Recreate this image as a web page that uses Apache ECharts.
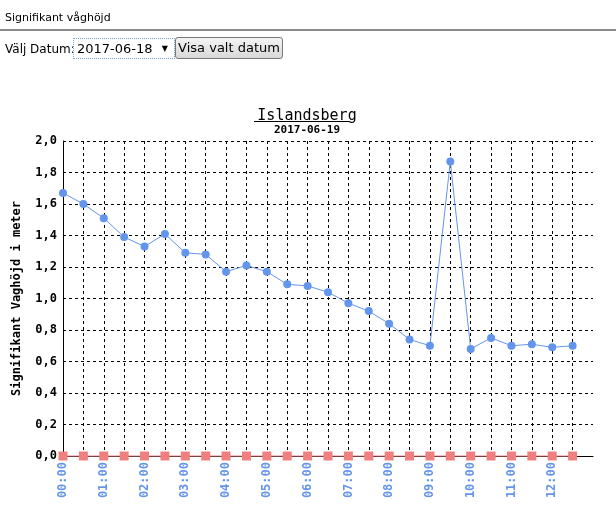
<!DOCTYPE html>
<html>
<head>
<meta charset="utf-8">
<script src="https://cdn.jsdelivr.net/npm/echarts@6/dist/echarts.min.js"></script>
<style>
  html, body { margin:0; padding:0; background:#fff; }
  #wrap { position:relative; width:616px; height:515px; overflow:hidden; }
  #chart { position:absolute; left:0; top:0; width:616px; height:515px; }
  .hdr { position:absolute; font-family:"DejaVu Sans", Verdana, sans-serif; font-size:11px; color:#000; z-index:2; }
  #rule { position:absolute; left:0; top:29px; width:616px; height:2px; background:#8a8a8a; z-index:2; }
  #sel { position:absolute; left:73px; top:38px; width:97px; height:19px; border:1px dotted #7aa0d8; background:#fff; font-family:"DejaVu Sans", Verdana, sans-serif; font-size:13px; line-height:19px; padding-left:3px; box-sizing:content-box; z-index:2; }
  #sel .arr { position:absolute; right:6px; top:0; font-size:8px; }
  #btn { position:absolute; left:175px; top:37px; width:106px; height:20px; border:1px solid #777; border-radius:3px; background:linear-gradient(#f4f4f4,#d8d8d8); font-family:"DejaVu Sans", Verdana, sans-serif; font-size:13px; line-height:20px; text-align:center; z-index:2; }
</style>
</head>
<body>
<div id="wrap">
  <div id="chart"></div>
  <div class="hdr" style="left:5px; top:11px;">Signifikant våghöjd</div>
  <div id="rule"></div>
  <div class="hdr" style="left:5px; top:42px; font-size:12px;">Välj Datum:</div>
  <div id="sel">2017-06-18<span class="arr">▼</span></div>
  <div id="btn">Visa valt datum</div>
</div>
<script>
const times = ["00:00","00:30","01:00","01:30","02:00","02:30","03:00","03:30","04:00","04:30","05:00","05:30","06:00","06:30","07:00","07:30","08:00","08:30","09:00","09:30","10:00","10:30","11:00","11:30","12:00","12:30"];
const waveHeight = [1.67,1.60,1.51,1.39,1.33,1.41,1.29,1.28,1.17,1.21,1.17,1.09,1.08,1.04,0.97,0.92,0.84,0.74,0.70,1.87,0.68,0.75,0.70,0.71,0.69,0.70];
const baseline = [0,0,0,0,0,0,0,0,0,0,0,0,0,0,0,0,0,0,0,0,0,0,0,0,0,0];
const titleText = "Islandsberg";
const subText = "2017-06-19";
const yName = "Signifikant Vaghöjd i meter";

const categories = times.concat([""]);
const mono = "DejaVu Sans Mono";
const dash = [3, 3];

const chart = echarts.init(document.getElementById('chart'), null, {renderer:'canvas'});
chart.setOption({
  animation: false,
  backgroundColor: '#fff',
  title: {
    text: titleText,
    subtext: subText,
    left: 302,
    top: 104,
    textAlign: 'center',
    itemGap: 1,
    textStyle: { fontFamily: mono, fontSize: 15, fontWeight: 'normal', color: '#000' },
    subtextStyle: { fontFamily: mono, fontSize: 11, fontWeight: 'bold', color: '#000' }
  },
  graphic: [{
    type: 'line',
    shape: { x1: 254, y1: 121.5, x2: 350, y2: 121.5 },
    style: { stroke: '#000', lineWidth: 1 }
  }],
  grid: { left: 63, right: 23, top: 141, bottom: 59, containLabel: false },
  xAxis: {
    type: 'category',
    data: categories,
    boundaryGap: false,
    axisLine: { lineStyle: { color: '#000', width: 1 } },
    axisTick: { show: false },
    axisLabel: {
      interval: function (i) { return i % 2 === 0 && i < times.length; },
      rotate: 90,
      margin: 6,
      color: '#6495ED',
      fontFamily: mono,
      fontWeight: 'bold',
      fontSize: 12
    },
    splitLine: {
      show: true,
      interval: function (i) { return i > 0 && i < times.length; },
      lineStyle: { color: '#000', type: dash, width: 1 }
    }
  },
  yAxis: {
    type: 'value',
    min: 0, max: 2, interval: 0.2,
    name: yName,
    nameLocation: 'middle',
    nameGap: 40,
    nameTextStyle: { fontFamily: mono, fontWeight: 'bold', fontSize: 12, color: '#000' },
    axisLine: { show: true, lineStyle: { color: '#000', width: 1 } },
    axisTick: { show: false },
    axisLabel: {
      margin: 6,
      color: '#000',
      fontFamily: mono,
      fontWeight: 'bold',
      fontSize: 12,
      formatter: function (v) { return v.toFixed(1).replace('.', ','); }
    },
    splitLine: { show: true, lineStyle: { color: '#000', type: dash, width: 1 } }
  },
  series: [
    {
      type: 'line',
      data: waveHeight,
      symbol: 'circle',
      symbolSize: 8,
      showAllSymbol: true,
      lineStyle: { color: '#6495ED', width: 1 },
      itemStyle: { color: '#6495ED' }
    },
    {
      type: 'line',
      data: baseline,
      clip: false,
      z: 5,
      symbol: 'rect',
      symbolSize: 9,
      showAllSymbol: true,
      lineStyle: { color: '#F08080', width: 1 },
      itemStyle: { color: '#F08080' }
    }
  ]
});
</script>
</body>
</html>
